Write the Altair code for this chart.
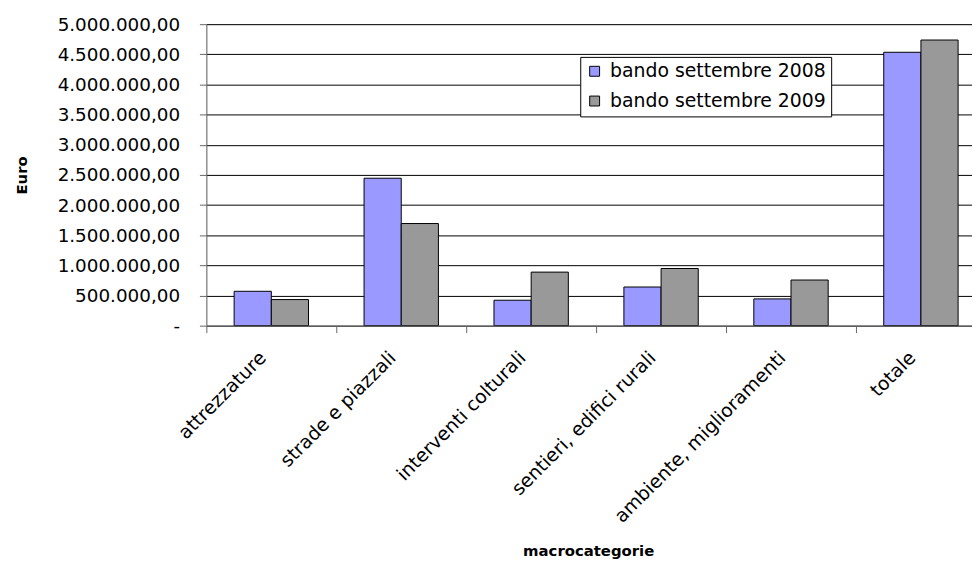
import altair as alt
import pandas as pd

categories = ["attrezzature", "strade e piazzali", "interventi colturali",
              "sentieri, edifici rurali", "ambiente, miglioramenti", "totale"]
series = ["bando settembre 2008", "bando settembre 2009"]
v2008 = [570000, 2445000, 422000, 641000, 444000, 4534000]
v2009 = [433000, 1694000, 888000, 948000, 757000, 4737000]
y_ticks = [0, 500000, 1000000, 1500000, 2000000, 2500000, 3000000,
           3500000, 4000000, 4500000, 5000000]
colors = ["#9999FF", "#999999"]

rows = []
for c, a, b in zip(categories, v2008, v2009):
    rows.append({"categoria": c, "serie": series[0], "euro": a})
    rows.append({"categoria": c, "serie": series[1], "euro": b})
df = pd.DataFrame(rows)

NB = "\u00a0"
label_expr = (
    "datum.value == 0 ? '-" + NB * 4 + "' : "
    "replace(replace(replace(format(datum.value, ',.2f'), regexp(',', 'g'), '#'), '.', ','), regexp('#', 'g'), '.')"
)

FONT = "DejaVu Sans"

chart = alt.Chart(df).mark_bar(stroke="black", strokeWidth=1).encode(
    x=alt.X(
        "categoria:N",
        sort=categories,
        scale=alt.Scale(range=[0, 786], paddingInner=0, paddingOuter=0),
        axis=alt.Axis(
            title="macrocategorie",
            titleFont=FONT, titleFontSize=15, titleFontWeight="bold",
            titleColor="black",
            titleX=385, titleY=232, titleBaseline="alphabetic", titleAnchor="middle",
            labelAngle=-45, labelAlign="right", labelBaseline="middle",
            labelPadding=22, labelOffset=-9,
            labelFont=FONT, labelFontSize=19, labelColor="black", labelLimit=400,
            tickBand="extent", tickSize=7, tickColor="#666666",
            domainColor="#666666", grid=False, zindex=1,
        ),
    ),
    xOffset=alt.XOffset(
        "serie:N", sort=series,
        scale=alt.Scale(paddingOuter=0.747, paddingInner=0),
    ),
    y=alt.Y(
        "euro:Q",
        scale=alt.Scale(domain=[0, 5000000], nice=False),
        axis=alt.Axis(
            title="Euro",
            titleFont=FONT, titleFontSize=15, titleFontWeight="bold",
            titleColor="black", titleX=-186, titleBaseline="middle",
            values=y_ticks, labelExpr=label_expr,
            labelFont=FONT, labelFontSize=18.5, labelColor="black",
            labelPadding=20, labelBaseline="middle",
            tickSize=7, tickColor="#666666", domainColor="#666666",
            grid=True, gridColor="black", gridWidth=1,
        ),
    ),
    color=alt.Color(
        "serie:N", sort=series,
        scale=alt.Scale(domain=series, range=colors),
        legend=alt.Legend(
            title=None, orient="none", legendX=377, legendY=33,
            strokeColor="black", fillColor="white", padding=5,
            symbolType="square", symbolSize=100,
            symbolStrokeColor="black", symbolStrokeWidth=1,
            labelFont=FONT, labelFontSize=19, labelColor="black",
            labelOffset=6, rowPadding=10, labelLimit=400,
        ),
    ),
).properties(
    width=772,
    height=304,
    autosize=alt.AutoSizeParams(type="none"),
    padding={"left": 200, "top": 14, "right": 0, "bottom": 237},
).configure_view(stroke=None).configure(background="white")

chart.save("out.html", embed_options={"renderer": "svg", "actions": False})
